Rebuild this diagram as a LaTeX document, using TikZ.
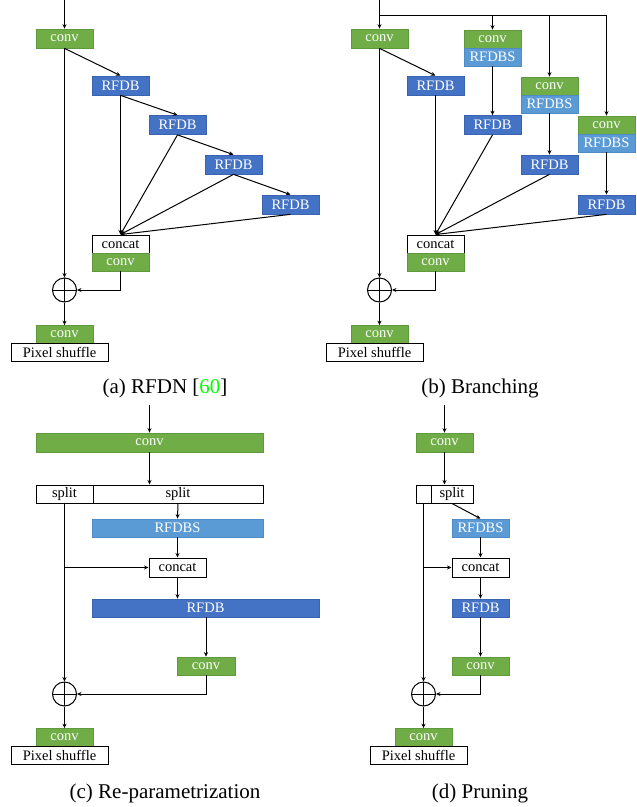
\documentclass[tikz,border=0pt]{standalone}
\usepackage{fontspec}
\setmainfont{Liberation Serif}
\usetikzlibrary{arrows.meta}
\definecolor{gfill}{HTML}{70AD47}
\definecolor{gline}{HTML}{5E9A3C}
\definecolor{bfill}{HTML}{4472C4}
\definecolor{bline}{HTML}{3A64B0}
\definecolor{lfill}{HTML}{5B9BD5}
\definecolor{lline}{HTML}{4F8CC6}
\definecolor{refgreen}{HTML}{00FF00}
\tikzset{
  blk/.style={rectangle, inner sep=0pt, minimum width=57pt, minimum height=19pt,
    font=\fontsize{14.5}{15}\selectfont, line width=0.7pt},
  convbox/.style={blk, fill=gfill, draw=gline, text=white},
  rfdb/.style={blk, fill=bfill, draw=bline, text=white},
  rfdbs/.style={blk, fill=lfill, draw=lline, text=white},
  plainbox/.style={blk, fill=white, draw=black, line width=1pt, text=black},
  addop/.style={circle, draw, line width=1pt, minimum size=24pt, inner sep=0pt,
    path picture={\draw[line width=0.8pt]
      (path picture bounding box.north) -- (path picture bounding box.south)
      (path picture bounding box.west) -- (path picture bounding box.east);}},
  flow/.style={line width=1pt, -{Stealth[length=4.5pt,width=4pt]}},
  wire/.style={line width=1pt},
  caption/.style={font=\fontsize{21}{24}\selectfont, inner sep=0pt}
}
\begin{document}
\begin{tikzpicture}[x=1pt,y=-1pt]
\useasboundingbox (0,0) rectangle (637,807);

% ---------------- (a) RFDN ----------------
\coordinate (a-in) at (64.5,0);
\node[convbox] (a-conv) at (64.5,38.5) {conv};
\node[rfdb] (a-r1) at (120.5,85.5) {RFDB};
\node[rfdb] (a-r2) at (177.5,125) {RFDB};
\node[rfdb] (a-r3) at (233.5,164.5) {RFDB};
\node[rfdb] (a-r4) at (290.5,204.5) {RFDB};
\node[plainbox, minimum height=18pt] (a-cat) at (120.5,244) {concat};
\node[convbox, minimum height=18pt] (a-cv2) at (120.5,262) {conv};
\node[addop] (a-add) at (64.5,290) {};
\node[convbox, minimum height=18pt] (a-cv3) at (64.5,334.5) {conv};
\node[plainbox, minimum width=97pt, minimum height=18pt] (a-ps) at (59.5,352.5) {Pixel shuffle};
\node[caption] (a-cap) at (165,388) {(a) RFDN [\textcolor{refgreen}{60}]};

\draw[flow] (a-in) -- (a-conv.north);
\draw[flow] (a-conv.south) -- (a-r1.north);
\draw[flow] (a-r1.south) -- (a-r2.north);
\draw[flow] (a-r2.south) -- (a-r3.north);
\draw[flow] (a-r3.south) -- (a-r4.north);
\draw[flow] (a-r1.south) -- (a-cat.north);
\draw[flow] (a-r2.south) -- (a-cat.north);
\draw[flow] (a-r3.south) -- (a-cat.north);
\draw[flow] (a-r4.south) -- (a-cat.north);
\draw[flow] (a-conv.south) -- (a-add.north);
\draw[flow] (a-cv2.south) |- (a-add.east);
\draw[flow] (a-add.south) -- (a-cv3.north);

% ---------------- (b) Branching ----------------
\coordinate (b-in) at (379.5,0);
\coordinate (b-j1) at (379.5,15);
\coordinate (b-j4) at (606.5,15);
\node[convbox] (b-c1) at (379.5,38.5) {conv};
\node[rfdb] (b-r1) at (435.5,85.5) {RFDB};
\node[convbox, minimum height=18pt] (b-c2) at (492.5,39) {conv};
\node[rfdbs, minimum height=18pt] (b-s2) at (492.5,57) {RFDBS};
\node[rfdb] (b-r2) at (492.5,125) {RFDB};
\node[convbox, minimum height=18pt] (b-c3) at (549.5,86) {conv};
\node[rfdbs, minimum height=18pt] (b-s3) at (549.5,104) {RFDBS};
\node[rfdb] (b-r3) at (549.5,164.5) {RFDB};
\node[convbox, minimum height=18pt] (b-c4) at (606.5,125) {conv};
\node[rfdbs, minimum height=18pt] (b-s4) at (606.5,143) {RFDBS};
\node[rfdb] (b-r4) at (606.5,204.5) {RFDB};
\node[plainbox, minimum height=18pt] (b-cat) at (435.5,244) {concat};
\node[convbox, minimum height=18pt] (b-cv2) at (435.5,262) {conv};
\node[addop] (b-add) at (379.5,290) {};
\node[convbox, minimum height=18pt] (b-cv3) at (379.5,334.5) {conv};
\node[plainbox, minimum width=97pt, minimum height=18pt] (b-ps) at (374.5,352.5) {Pixel shuffle};
\node[caption] (b-cap) at (480,388) {(b) Branching};

\draw[wire] (b-in) -- (b-j1) -- (b-j4);
\draw[flow] (b-j1) -- (b-c1.north);
\draw[flow] (b-c2.north |- b-j1) -- (b-c2.north);
\draw[flow] (b-c3.north |- b-j1) -- (b-c3.north);
\draw[flow] (b-j4) -- (b-c4.north);
\draw[flow] (b-c1.south) -- (b-r1.north);
\draw[flow] (b-s2.south) -- (b-r2.north);
\draw[flow] (b-s3.south) -- (b-r3.north);
\draw[flow] (b-s4.south) -- (b-r4.north);
\draw[flow] (b-r1.south) -- (b-cat.north);
\draw[flow] (b-r2.south) -- (b-cat.north);
\draw[flow] (b-r3.south) -- (b-cat.north);
\draw[flow] (b-r4.south) -- (b-cat.north);
\draw[flow] (b-c1.south) -- (b-add.north);
\draw[flow] (b-cv2.south) |- (b-add.east);
\draw[flow] (b-add.south) -- (b-cv3.north);

% ---------------- (c) Re-parametrization ----------------
\coordinate (c-in) at (149.5,405);
\node[convbox, minimum width=227pt] (c-conv) at (149.5,442.5) {conv};
\node[plainbox, minimum height=18pt] (c-spl) at (64.5,494) {split};
\node[plainbox, minimum width=170pt, minimum height=18pt] (c-spr) at (178,494) {split};
\node[rfdbs, minimum width=171pt, minimum height=18pt] (c-rs) at (177.5,528) {RFDBS};
\node[plainbox] (c-cat) at (177.5,567.5) {concat};
\node[rfdb, minimum width=227pt, minimum height=18pt] (c-rb) at (205.5,608) {RFDB};
\node[convbox, minimum width=58pt, minimum height=18pt] (c-cv) at (206,666) {conv};
\node[addop] (c-add) at (64.5,694) {};
\node[convbox, minimum height=18pt] (c-cv3) at (64.5,737.5) {conv};
\node[plainbox, minimum width=97pt, minimum height=18pt] (c-ps) at (59.5,755.5) {Pixel shuffle};
\node[caption] (c-cap) at (165,793) {(c) Re-parametrization};

\draw[flow] (c-in) -- (c-conv.north);
\draw[flow] (c-conv.south) -- (c-conv.south |- c-spr.north);
\draw[flow] (c-spr.south) -- (c-rs.north);
\draw[flow] (c-rs.south) -- (c-cat.north);
\draw[flow] (c-cat.south) -- (c-cat.south |- c-rb.north);
\draw[flow] (c-cv.north |- c-rb.south) -- (c-cv.north);
\draw[flow] (c-spl.south) -- (c-add.north);
\draw[flow] (c-spl.south |- c-cat.west) -- (c-cat.west);
\draw[flow] (c-cv.south) |- (c-add.east);
\draw[flow] (c-add.south) -- (c-cv3.north);

% ---------------- (d) Pruning ----------------
\coordinate (d-in) at (444.5,405);
\node[convbox] (d-conv) at (444.5,442.5) {conv};
\node[plainbox, minimum width=15pt, minimum height=18pt] (d-spl) at (423.5,494) {};
\node[plainbox, minimum width=42pt, minimum height=18pt] (d-spr) at (452,494) {split};
\node[rfdbs, minimum height=18pt] (d-rs) at (480.5,528) {RFDBS};
\node[plainbox] (d-cat) at (480.5,567.5) {concat};
\node[rfdb, minimum height=18pt] (d-rb) at (480.5,608) {RFDB};
\node[convbox, minimum height=18pt] (d-cv) at (480.5,666) {conv};
\node[addop] (d-add) at (423.5,694) {};
\node[convbox, minimum height=18pt] (d-cv3) at (423.5,737.5) {conv};
\node[plainbox, minimum width=97pt, minimum height=18pt] (d-ps) at (418.5,755.5) {Pixel shuffle};
\node[caption] (d-cap) at (480,793) {(d) Pruning};

\draw[flow] (d-in) -- (d-conv.north);
\draw[flow] (d-conv.south) -- (d-conv.south |- d-spr.north);
\draw[flow] (d-spr.south) -- (d-rs.north);
\draw[flow] (d-rs.south) -- (d-cat.north);
\draw[flow] (d-cat.south) -- (d-rb.north);
\draw[flow] (d-rb.south) -- (d-cv.north);
\draw[flow] (d-spl.south) -- (d-add.north);
\draw[flow] (d-spl.south |- d-cat.west) -- (d-cat.west);
\draw[flow] (d-cv.south) |- (d-add.east);
\draw[flow] (d-add.south) -- (d-cv3.north);
\end{tikzpicture}
\end{document}
